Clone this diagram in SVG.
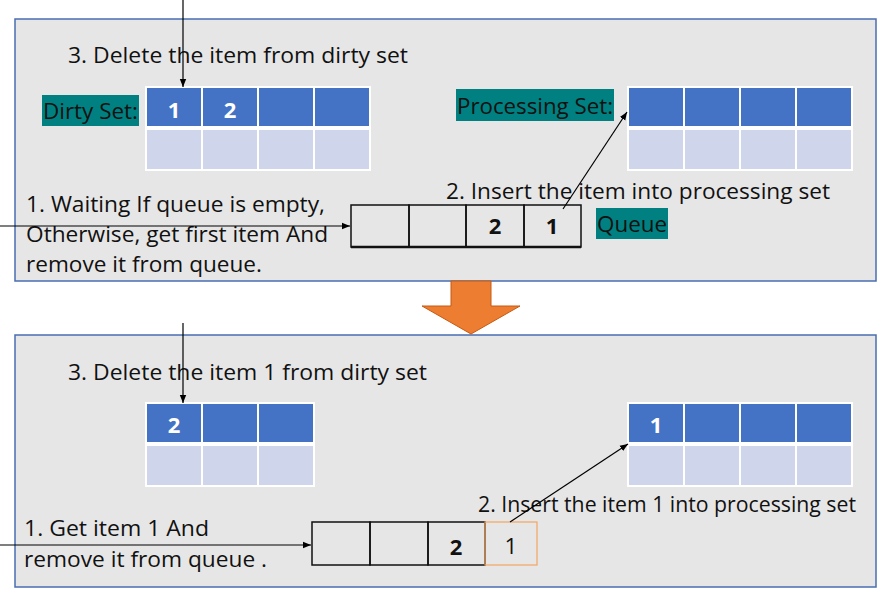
<svg xmlns="http://www.w3.org/2000/svg" width="888" height="596" viewBox="0 0 888 596">
<defs>
<marker id="arr" viewBox="0 0 10 10" refX="10" refY="5" markerWidth="8" markerHeight="8" markerUnits="userSpaceOnUse" orient="auto">
<path d="M0,1 L10,5 L0,9 z" fill="#000"/>
</marker>
</defs>
<style>
.panel{fill:#E7E6E6;stroke:#4A6DB0;stroke-width:1.5}
.txt{font-family:"Open Sans","Liberation Sans",sans-serif;font-size:22.5px;fill:#111}
.lbl{fill:#008080}
.dk{fill:#4472C4;stroke:#fff;stroke-width:2}
.lt{fill:#CFD5EA;stroke:#fff;stroke-width:2}
.wnum{font-family:"Open Sans","Liberation Sans",sans-serif;font-size:22px;font-weight:bold;fill:#fff;text-anchor:middle}
.bnum{font-family:"Open Sans","Liberation Sans",sans-serif;font-size:22px;font-weight:bold;fill:#111;text-anchor:middle}
.q{fill:none;stroke:#111;stroke-width:1.5}
.conn{stroke:#000;stroke-width:1.2;fill:none;marker-end:url(#arr)}
</style>
<rect width="888" height="596" fill="#fff"/>

<g id="top-panel"><rect class="panel" x="15" y="19" width="861" height="262"/></g>
<g id="bottom-panel"><rect class="panel" x="15" y="335" width="861" height="252"/></g>

<g id="transition-arrow">
<path d="M451,281 L491,281 L491,306 L520,306 L471,334 L422,306 L451,306 Z" fill="#ED7D31" stroke="#C55A11" stroke-width="1"/>
</g>

<!-- Top panel -->
<g id="t-step3"><text class="txt" x="68" y="63" textLength="340" lengthAdjust="spacingAndGlyphs">3. Delete the item from dirty set</text></g>

<g id="t-dirty-label">
<rect class="lbl" x="42" y="95" width="97" height="31"/>
<text class="txt" x="43" y="119" textLength="95" lengthAdjust="spacingAndGlyphs">Dirty Set:</text>
</g>

<g id="t-dirty-set">
<rect class="dk" x="146" y="87" width="56" height="40"/>
<rect class="dk" x="202" y="87" width="56" height="40"/>
<rect class="dk" x="258" y="87" width="56" height="40"/>
<rect class="dk" x="314" y="87" width="56" height="40"/>
<rect class="lt" x="146" y="129" width="56" height="41"/>
<rect class="lt" x="202" y="129" width="56" height="41"/>
<rect class="lt" x="258" y="129" width="56" height="41"/>
<rect class="lt" x="314" y="129" width="56" height="41"/>
<text class="wnum" x="174" y="118">1</text>
<text class="wnum" x="230" y="118">2</text>
</g>

<g id="t-processing-label">
<rect class="lbl" x="456" y="89" width="158" height="32"/>
<text class="txt" x="457" y="114" textLength="156" lengthAdjust="spacingAndGlyphs">Processing Set:</text>
</g>

<g id="t-processing-set">
<rect class="dk" x="628" y="87" width="56" height="40"/>
<rect class="dk" x="684" y="87" width="56" height="40"/>
<rect class="dk" x="740" y="87" width="56" height="40"/>
<rect class="dk" x="796" y="87" width="56" height="40"/>
<rect class="lt" x="628" y="129" width="56" height="41"/>
<rect class="lt" x="684" y="129" width="56" height="41"/>
<rect class="lt" x="740" y="129" width="56" height="41"/>
<rect class="lt" x="796" y="129" width="56" height="41"/>
</g>

<g id="t-step2"><text class="txt" x="446" y="199" textLength="384" lengthAdjust="spacingAndGlyphs">2. Insert the item into processing set</text></g>

<g id="t-step1">
<text class="txt" x="26" y="212" textLength="299" lengthAdjust="spacingAndGlyphs">1. Waiting If queue is empty,</text>
<text class="txt" x="26" y="242" textLength="302" lengthAdjust="spacingAndGlyphs">Otherwise, get first item And</text>
<text class="txt" x="26" y="272" textLength="236" lengthAdjust="spacingAndGlyphs">remove it from queue.</text>
</g>

<g id="t-queue">
<rect class="q" x="351" y="205" width="58" height="42"/>
<rect class="q" x="409" y="205" width="57" height="42"/>
<rect class="q" x="466" y="205" width="58" height="42"/>
<rect class="q" x="524" y="205" width="57" height="42"/>
<line x1="351" y1="247" x2="581" y2="247" stroke="#111" stroke-width="2.5"/>
<text class="bnum" x="495" y="234">2</text>
<text class="bnum" x="552" y="234">1</text>
</g>

<g id="t-queue-label">
<rect class="lbl" x="596" y="208" width="72" height="31"/>
<text class="txt" x="597" y="232" textLength="70" lengthAdjust="spacingAndGlyphs">Queue</text>
</g>

<!-- Bottom panel -->
<g id="b-step3"><text class="txt" x="68" y="380" textLength="359" lengthAdjust="spacingAndGlyphs">3. Delete the item 1 from dirty set</text></g>

<g id="b-dirty-set">
<rect class="dk" x="146" y="403" width="56" height="40"/>
<rect class="dk" x="202" y="403" width="56" height="40"/>
<rect class="dk" x="258" y="403" width="56" height="40"/>
<rect class="lt" x="146" y="445" width="56" height="41"/>
<rect class="lt" x="202" y="445" width="56" height="41"/>
<rect class="lt" x="258" y="445" width="56" height="41"/>
<text class="wnum" x="174" y="433">2</text>
</g>

<g id="b-processing-set">
<rect class="dk" x="628" y="403" width="56" height="40"/>
<rect class="dk" x="684" y="403" width="56" height="40"/>
<rect class="dk" x="740" y="403" width="56" height="40"/>
<rect class="dk" x="796" y="403" width="56" height="40"/>
<rect class="lt" x="628" y="445" width="56" height="41"/>
<rect class="lt" x="684" y="445" width="56" height="41"/>
<rect class="lt" x="740" y="445" width="56" height="41"/>
<rect class="lt" x="796" y="445" width="56" height="41"/>
<text class="wnum" x="656" y="433">1</text>
</g>

<g id="b-step2"><text class="txt" x="478" y="512" textLength="378" lengthAdjust="spacingAndGlyphs">2. Insert the item 1 into processing set</text></g>

<g id="b-step1">
<text class="txt" x="24" y="536" textLength="185" lengthAdjust="spacingAndGlyphs">1. Get item 1 And</text>
<text class="txt" x="24" y="567" textLength="243" lengthAdjust="spacingAndGlyphs">remove it from queue .</text>
</g>

<g id="b-queue">
<rect class="q" x="312" y="522" width="58" height="43"/>
<rect class="q" x="370" y="522" width="58" height="43"/>
<rect class="q" x="428" y="522" width="57" height="43"/>
<rect x="485" y="522" width="52" height="43" fill="none" stroke="#F4A460" stroke-width="1.2"/>
<text class="bnum" x="456" y="555">2</text>
<text class="txt" x="511" y="554" text-anchor="middle">1</text>
</g>

<!-- Connectors -->
<g id="connectors">
<line class="conn" x1="183" y1="0" x2="183" y2="87"/>
<line class="conn" x1="0" y1="226" x2="350" y2="226"/>
<line class="conn" x1="563" y1="209" x2="627" y2="112"/>
<line class="conn" x1="183" y1="323" x2="183" y2="403"/>
<line class="conn" x1="0" y1="545" x2="311" y2="545"/>
<line class="conn" x1="510" y1="522" x2="628" y2="444"/>
</g>
</svg>
